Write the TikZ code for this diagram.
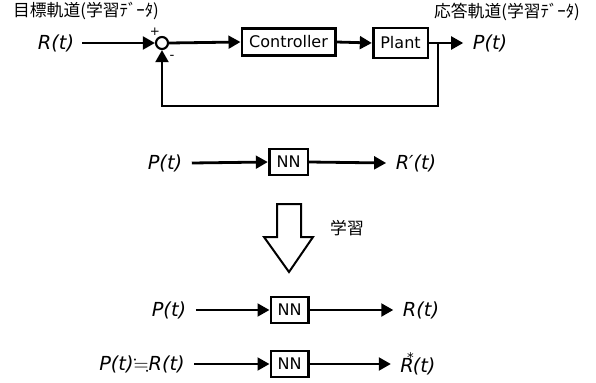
\documentclass[tikz,border=0pt]{standalone}
\usepackage{amssymb}
\usepackage{fontspec}
\setmainfont{DejaVu Sans}
\newfontfamily\jpfont{Noto Sans CJK JP}
\usetikzlibrary{arrows.meta}

\begin{document}
\begin{tikzpicture}[x=0.75pt,y=-0.75pt,font=\fontsize{12}{14}\selectfont,
 box/.style={draw=black,line width=2pt,inner sep=0pt},
 ar/.style={-{Triangle[length=9pt,width=9.5pt]},line width=2.1pt},
 sig/.style={font=\itshape\fontsize{14.5}{16}\selectfont,inner sep=0pt},
 note/.style={font=\jpfont\fontsize{12.6}{14}\selectfont,inner sep=0pt}]
\useasboundingbox (0,0) rectangle (596,382);
% feedback loop
\node[note] (goal) at (86,11) {目標軌道(学習ﾃﾞｰﾀ)};
\node[note] (resp) at (507,12) {応答軌道(学習ﾃﾞｰﾀ)};
\node[sig] (ref) at (56,43) {R(t)};
\node[circle,draw,line width=1.6pt,minimum size=9pt,inner sep=0pt] (sum) at (162,43) {};
\node[font=\fontsize{9}{10}\selectfont,inner sep=0pt] (plus) at (155,32) {+};
\node[font=\fontsize{10}{10}\selectfont,inner sep=0pt] (minus) at (172,57) {-};
\node[box,minimum width=70pt,minimum height=20pt] (ctrl) at (288.5,42) {Controller};
\node[box,minimum width=41pt,minimum height=22.5pt] (plant) at (400.5,43) {Plant};
\node[sig] (out) at (490,43) {P(t)};
\coordinate (fb) at (438,43);
\draw[ar] ([xshift=6pt]ref.east) -- (sum.west);
\draw[ar] (sum.east) -- (ctrl.west);
\draw[ar] (ctrl.east) -- (plant.west);
\draw[ar] (plant.east) -- ([xshift=-7pt]out.west);
\draw[ar] (fb) -- ++(0,63) -| (sum.south);
% training
\node[sig] (p1) at (165,163) {P(t)};
\node[box,minimum width=29pt,minimum height=19.5pt] (nn1) at (288.5,162) {NN};
\node[sig] (r1) at (416,163) {R′(t)};
\draw[ar] ([xshift=7pt]p1.east) -- (nn1.west);
\draw[ar] (nn1.east) -- ([xshift=-7pt]r1.west);
\draw[line width=1.5pt,line join=miter] (277,204) -- (301,204) -- (301,237) -- (313,237)
 -- (289,272) -- (264,237) -- (277,237) -- cycle;
\node[note] (learn) at (347,228) {学習};
% trained network
\node[sig] (p2) at (169,310) {P(t)};
\node[box,minimum width=28pt,minimum height=19.5pt] (nn2) at (289.5,310) {NN};
\node[sig] (r2) at (421,310) {R(t)};
\draw[ar] ([xshift=7pt]p2.east) -- (nn2.west);
\draw[ar] (nn2.east) -- ([xshift=-7pt]r2.west);
\node[sig] (p3) at (142,364) {P(t)$\fallingdotseq$R(t)};
\node[box,minimum width=28pt,minimum height=19.5pt] (nn3) at (289.5,364) {NN};
\node[sig] (r3) at (418,364) {R\kern-.35em\raisebox{.55em}{\upshape\fontsize{10}{10}\selectfont *}\kern-.05em(t)};
\draw[ar] ([xshift=7pt]p3.east) -- (nn3.west);
\draw[ar] (nn3.east) -- ([xshift=-7pt]r3.west);
\end{tikzpicture}
\end{document}
